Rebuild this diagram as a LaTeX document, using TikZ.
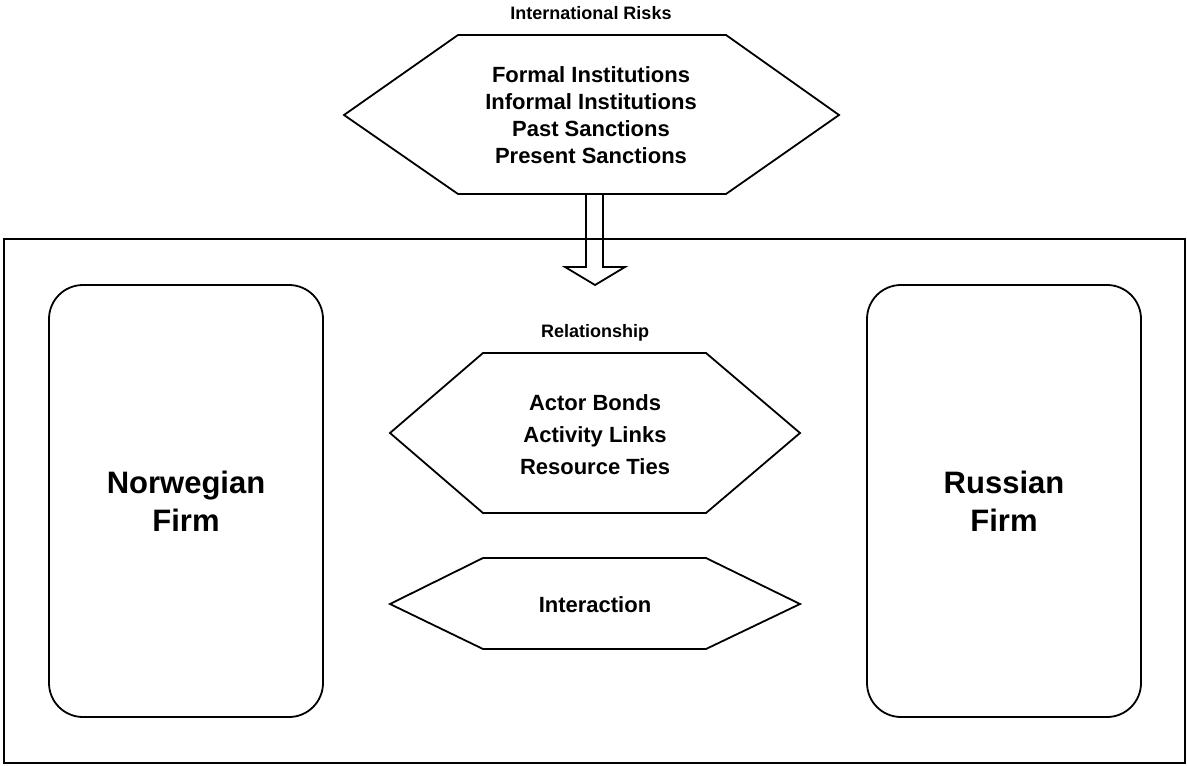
\documentclass[tikz,border=0pt]{standalone}
\usepackage{fontspec}
\setmainfont{Liberation Sans}
\begin{document}
\begin{tikzpicture}[x=0.5pt,y=-0.5pt,
  shp/.style={draw=black,line width=0.9pt,line join=miter},
  lbl/.style={font=\bfseries\fontsize{9}{11}\selectfont,inner sep=0pt},
  inner/.style={font=\bfseries\fontsize{11}{13.5}\selectfont,align=center,inner sep=0pt},
  firm/.style={font=\bfseries\fontsize{15.5}{19}\selectfont,align=center,inner sep=0pt}]
\useasboundingbox (0,0) rectangle (1187,765);
% outer frame
\draw[shp] (4,239) rectangle (1185,763);
% top hexagon
\draw[shp,fill=white] (458,35) -- (726,35) -- (839,115) -- (726,194) -- (458,194) -- (344,115) -- cycle;
\coordinate (hexbot) at (595,194);
\node[lbl] (intl) at (591,13) {International Risks};
\node[inner,font=\bfseries\fontsize{11}{13.5}\selectfont] (risks) at (591,115) {Formal Institutions\\Informal Institutions\\Past Sanctions\\Present Sanctions};
% block arrow
\draw[shp] ([shift={(-9,0)}]hexbot) -- ++(0,73) -- ++(-21,0) -- ++(30,18) coordinate (arrtip) -- ++(30,-18) -- ++(-22,0) -- ++(0,-73);
% firms
\draw[shp,rounded corners=17pt] (49,285) rectangle (323,717);
\node[firm] (nor) at (186,501) {Norwegian\\Firm};
\draw[shp,rounded corners=17pt] (867,285) rectangle (1141,717);
\node[firm] (rus) at (1004,501) {Russian\\Firm};
% relationship hexagon
\node[lbl] (relt) at (595,333) {Relationship};
\draw[shp] (483,353) -- (706,353) -- (800,433) -- (706,513) -- (483,513) -- (390,433) -- cycle;
\node[inner,font=\bfseries\fontsize{11}{16}\selectfont] (rel) at (595,435) {Actor Bonds\\Activity Links\\Resource Ties};
% interaction hexagon
\draw[shp] (483,558) -- (706,558) -- (800,604) -- (706,649) -- (483,649) -- (390,604) -- cycle;
\node[inner] (inter) at (595,605) {Interaction};
\end{tikzpicture}
\end{document}
